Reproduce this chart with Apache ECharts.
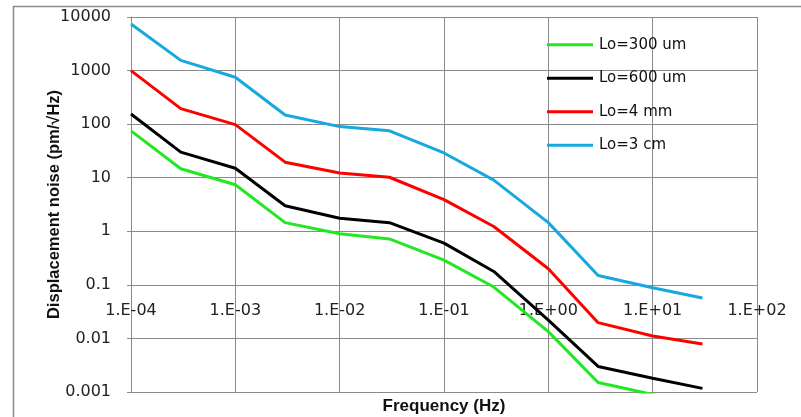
<!DOCTYPE html>
<html>
<head>
<meta charset="utf-8">
<script src="https://cdn.jsdelivr.net/npm/echarts@6/dist/echarts.min.js"></script>
<style>
  html, body { margin: 0; padding: 0; background: #fff; }
  #noise_chart { width: 801px; height: 417px; }
</style>
</head>
<body>
<div id="noise_chart"></div>
<script>
let freq = [1e-4, 3e-4, 1e-3, 3e-3, 1e-2, 3e-2, 1e-1, 3e-1, 1, 3, 10, 30];
let lo300um = [75, 14.7, 7.4, 1.45, 0.9, 0.72, 0.29, 0.091, 0.0134, 0.0015, 0.0009, 0.0005];
let lo600um = [155, 30, 15, 3.0, 1.75, 1.45, 0.6, 0.178, 0.022, 0.003, 0.0018, 0.00117];
let lo4mm = [1000, 195, 98, 19.5, 12.2, 10.2, 3.9, 1.23, 0.2, 0.0197, 0.0111, 0.0079];
let lo3cm = [7400, 1550, 750, 148, 90, 75, 29, 9, 1.45, 0.15, 0.088, 0.057];

let seriesNames = ['Lo=300 um', 'Lo=600 um', 'Lo=4 mm', 'Lo=3 cm'];
let seriesColors = ['#22e822', '#000000', '#ff0000', '#17a8e0'];

let xTickLabels = ['1.E-04', '1.E-03', '1.E-02', '1.E-01', '1.E+00', '1.E+01', '1.E+02'];
let yTickLabels = ['0.001', '0.01', '0.1', '1', '10', '100', '1000', '10000'];

function pairs(ys) {
    let out = [];
    for (var i = 0; i < freq.length; i++) {
        out.push([freq[i], ys[i]]);
    }
    return out;
}

let noiseChart = echarts.init(document.getElementById('noise_chart'));

let allData = [lo300um, lo600um, lo4mm, lo3cm];
let series = [];
for (var k = 0; k < allData.length; k++) {
    series.push({
        name: seriesNames[k],
        type: 'line',
        data: pairs(allData[k]),
        showSymbol: false,
        symbol: 'none',
        clip: true,
        lineStyle: { color: seriesColors[k], width: 3 },
        itemStyle: { color: seriesColors[k] }
    });
}

var option = {
    animation: false,
    backgroundColor: '#fff',
    graphic: [{
        type: 'rect',
        shape: { x: 13.5, y: 6.5, width: 800, height: 420 },
        style: { fill: 'none', stroke: '#8c8c8c', lineWidth: 1.5 },
        silent: true
    }],
    legend: {
        orient: 'vertical',
        left: 547,
        top: 36,
        padding: 0,
        itemWidth: 46,
        itemHeight: 3,
        itemGap: 16,
        icon: 'rect',
        data: seriesNames,
        textStyle: { fontFamily: 'DejaVu Sans', fontSize: 15, color: '#111', lineHeight: 17.5, padding: [0, 0, 0, 1] }
    },
    grid: {
        left: 131,
        right: 44,
        top: 17,
        bottom: 25,
        containLabel: false,
        outerBoundsMode: 'none'
    },
    xAxis: {
        type: 'log',
        logBase: 10,
        min: 1e-4,
        max: 100,
        name: 'Frequency (Hz)',
        nameLocation: 'middle',
        nameGap: 6,
        nameMoveOverlap: false,
        nameTextStyle: { fontFamily: 'Liberation Sans', fontWeight: 'bold', fontSize: 17, color: '#111' },
        axisLine: { show: false },
        axisTick: { show: false },
        axisLabel: {
            margin: -89,
            fontFamily: 'DejaVu Sans',
            fontSize: 16,
            color: '#222',
            showMinLabel: true,
            showMaxLabel: true,
            formatter: function (v) {
                let e = Math.round(Math.log10(v));
                return xTickLabels[e + 4];
            }
        },
        splitLine: { show: true, lineStyle: { color: '#8a8a8a', width: 1 } }
    },
    yAxis: {
        type: 'log',
        logBase: 10,
        min: 0.001,
        max: 10000,
        name: 'Displacement noise (pm/√Hz)',
        nameLocation: 'middle',
        nameRotate: 90,
        nameGap: 68,
        nameMoveOverlap: false,
        nameTextStyle: { fontFamily: 'Liberation Sans', fontWeight: 'bold', fontSize: 16.5, color: '#111' },
        axisLine: { show: true, lineStyle: { color: '#8a8a8a', width: 1 } },
        axisTick: { show: true, length: 4, lineStyle: { color: '#8a8a8a' } },
        axisLabel: {
            margin: 20,
            fontFamily: 'DejaVu Sans',
            fontSize: 16,
            color: '#222',
            formatter: function (v) {
                let e = Math.round(Math.log10(v));
                return yTickLabels[e + 3];
            }
        },
        splitLine: { show: true, lineStyle: { color: '#8a8a8a', width: 1 } }
    },
    series: series
};

option && noiseChart.setOption(option, true);
</script>
</body>
</html>
